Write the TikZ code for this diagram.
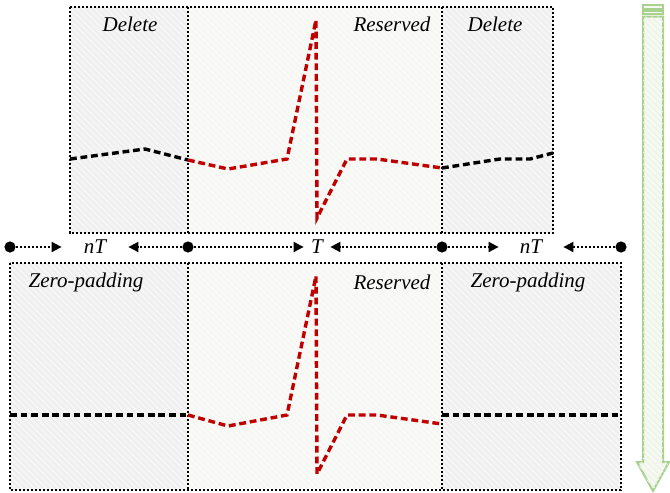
\documentclass[tikz,border=0pt]{standalone}
\usepackage{fontspec}
\setmainfont{Liberation Serif}
\usetikzlibrary{arrows.meta,patterns}
\definecolor{sigredc}{HTML}{C00000}
\definecolor{arrgreen}{HTML}{A9D18E}
\definecolor{midc}{HTML}{F9F9F5}
\definecolor{arrfill}{HTML}{F6F9F2}
\begin{document}
\begin{tikzpicture}[x=0.5pt,y=-0.5pt,
  boxline/.style={draw=black, line width=1pt, dash pattern=on 1.1pt off 0.9pt},
  sidefill/.style={fill=gray!8, postaction={pattern=north west lines, pattern color=gray!16}},
  midfill/.style={fill=midc, postaction={pattern=north west lines, pattern color=gray!8}},
  sigblack/.style={draw=black, line width=1.7pt, dash pattern=on 3.4pt off 1.9pt},
  sigred/.style={draw=sigredc, line width=1.7pt, dash pattern=on 3.4pt off 1.9pt},
  lbl/.style={font=\fontsize{10.5}{12}\selectfont\itshape, inner sep=0pt},
  dot/.style={circle, fill=black, minimum size=5.6pt, inner sep=0pt},
  dimarrow/.style={-{Triangle[length=5pt,width=5pt]}, line width=0.9pt, dash pattern=on 1.1pt off 0.9pt},
]
\useasboundingbox (0,0) rectangle (670,493);
% top boxes
\path[sidefill] (70,7) rectangle (188,233);
\path[midfill] (188,7) rectangle (442,233);
\path[sidefill] (442,7) rectangle (553,233);
\path[boxline] (70,7) rectangle (553,233);
\path[boxline] (188,7) -- (188,233);
\path[boxline] (442,7) -- (442,233);
% bottom boxes
\path[sidefill] (10,263) rectangle (188,490);
\path[midfill] (188,263) rectangle (442,490);
\path[sidefill] (442,263) rectangle (621,490);
\path[boxline] (10,263) rectangle (621,490);
\path[boxline] (188,263) -- (188,490);
\path[boxline] (442,263) -- (442,490);
% labels
\node[lbl] (t1) at (130,24) {Delete};
\node[lbl] (t2) at (392,24) {Reserved};
\node[lbl] (t3) at (495,24) {Delete};
\node[lbl] (b1) at (86,282) {Zero-padding};
\node[lbl] (b2) at (392,282) {Reserved};
\node[lbl] (b3) at (528,282) {Zero-padding};
% top signal
\draw[sigblack] (70,159) -- (145,149) -- (188,160);
\draw[sigred] (188,160) -- (228,169) -- (287,159) -- (316,20) -- (317,218) -- (347,159) -- (377,159) -- (442,168);
\draw[sigblack] (442,168) -- (500,159) -- (530,159) -- (553,153);
% bottom signal
\draw[sigblack] (10,415) -- (188,415);
\draw[sigred] (188,415) -- (228,426) -- (287,415) -- (316,276) -- (317,474) -- (347,415) -- (377,415) -- (442,424);
\draw[sigblack] (442,415) -- (621,415);
% dimension row
\node[dot] (d1) at (10,247) {};
\node[dot] (d2) at (188,247) {};
\node[dot] (d3) at (442,247) {};
\node[dot] (d4) at (621,247) {};
\node[lbl, minimum width=33pt] (l1) at (95,247) {nT};
\node[lbl, minimum width=13pt] (l2) at (317,247) {T};
\node[lbl, minimum width=32pt] (l3) at (531,247) {nT};
\draw[dimarrow] (d1) -- (l1.west);
\draw[dimarrow] (d2) -- (l1.east);
\draw[dimarrow] (d2) -- (l2.west);
\draw[dimarrow] (d3) -- (l2.east);
\draw[dimarrow] (d3) -- (l3.west);
\draw[dimarrow] (d4) -- (l3.east);
% green arrow
\draw[arrgreen, line width=1pt, fill=arrfill] (643,4.5) rectangle (663,8.5);
\draw[arrgreen, line width=1pt, fill=arrfill] (643,11) rectangle (663,14);
\draw[arrgreen, line width=1pt, fill=arrfill, postaction={pattern=north west lines, pattern color=arrgreen!25}]
  (643,16.5) -- (663,16.5) -- (663,462) -- (669,462) -- (653,491) -- (637,462) -- (643,462) -- cycle;
\end{tikzpicture}
\end{document}
